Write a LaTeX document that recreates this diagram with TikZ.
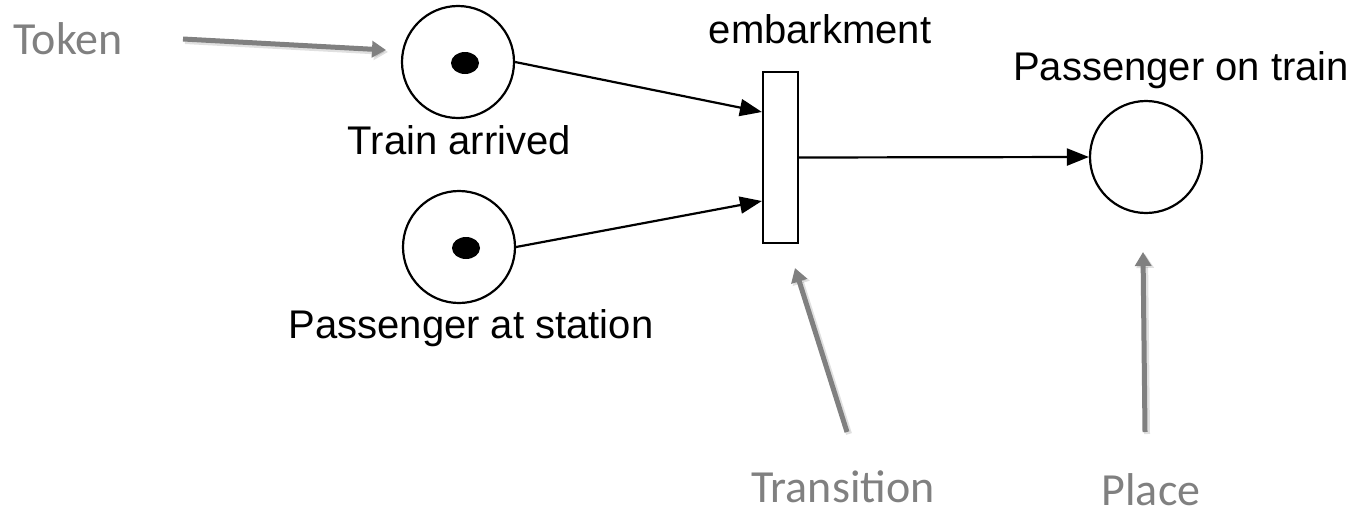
\documentclass[tikz,border=0pt]{standalone}
\usepackage{fontspec}
\setmainfont{Liberation Sans}
\newfontfamily\calloutfont{Carlito}
\usetikzlibrary{arrows.meta}
\definecolor{callgray}{HTML}{808080}
\begin{document}
\begin{tikzpicture}[x=1pt,y=-1pt,
  place/.style={circle,draw,line width=2.2pt,minimum size=112pt,inner sep=0pt},
  transbox/.style={rectangle,draw,line width=2.2pt,minimum width=35pt,minimum height=171pt,inner sep=0pt},
  arc/.style={line width=2.2pt,-{Triangle[length=22pt,width=17pt]}},
  callout/.style={line width=5pt,callgray,-{Triangle[length=14pt,width=16pt]}},
  calloutshadow/.style={line width=6pt,black,opacity=0.12,-{Triangle[length=14pt,width=17pt]}},
  lab/.style={anchor=base,inner sep=0pt,font=\fontsize{40}{48}\selectfont},
  clab/.style={anchor=base,inner sep=0pt,text=callgray,font=\calloutfont\fontsize{46}{54}\selectfont},
  token/.style={fill=black}]
\useasboundingbox (0,0) rectangle (1365,514);

% places
\node[place] (arrived) at (458,62) {};
\node[place] (station) at (459,247) {};
\node[place] (ontrain) at (1146,157) {};
\fill[token] (465,63) ellipse [x radius=14, y radius=11];
\fill[token] (466,248) ellipse [x radius=14, y radius=11];

% transition
\node[transbox] (embark) at (780.5,157.5) {};

% labels
\node[lab] (larrived) at (459.5,154) {Train arrived};
\node[lab] (lstation) at (471,338) {Passenger at station};
\node[lab] (lontrain) at (1181,80) {Passenger on train};
\node[lab] (lembark) at (820,43) {embarkment};

% arcs
\draw[arc] (arrived.east) -- ([yshift=45.5pt]embark.west);
\draw[arc] (station.east) -- ([yshift=-43.5pt]embark.west);
\draw[arc] (embark.east) -- (ontrain.west);

% callout labels and pointers
\node[clab] (ltoken) at (68,54) {Token};
\node[clab] (ltrans) at (843,502) {Transition};
\node[clab] (lplace) at (1151,505) {Place};

\coordinate (tokA) at (183,39);
\coordinate (tokB) at (386,50);
\coordinate (trA) at (847,432);
\coordinate (trB) at (795,268);
\coordinate (plA) at (1145,432);
\coordinate (plB) at (1143,252);

\foreach \a/\b in {tokA/tokB,trA/trB,plA/plB}{
  \draw[calloutshadow] ([xshift=2pt,yshift=-2pt]\a) -- ([xshift=2pt,yshift=-2pt]\b);
  \draw[callout] (\a) -- (\b);
}
\end{tikzpicture}
\end{document}
